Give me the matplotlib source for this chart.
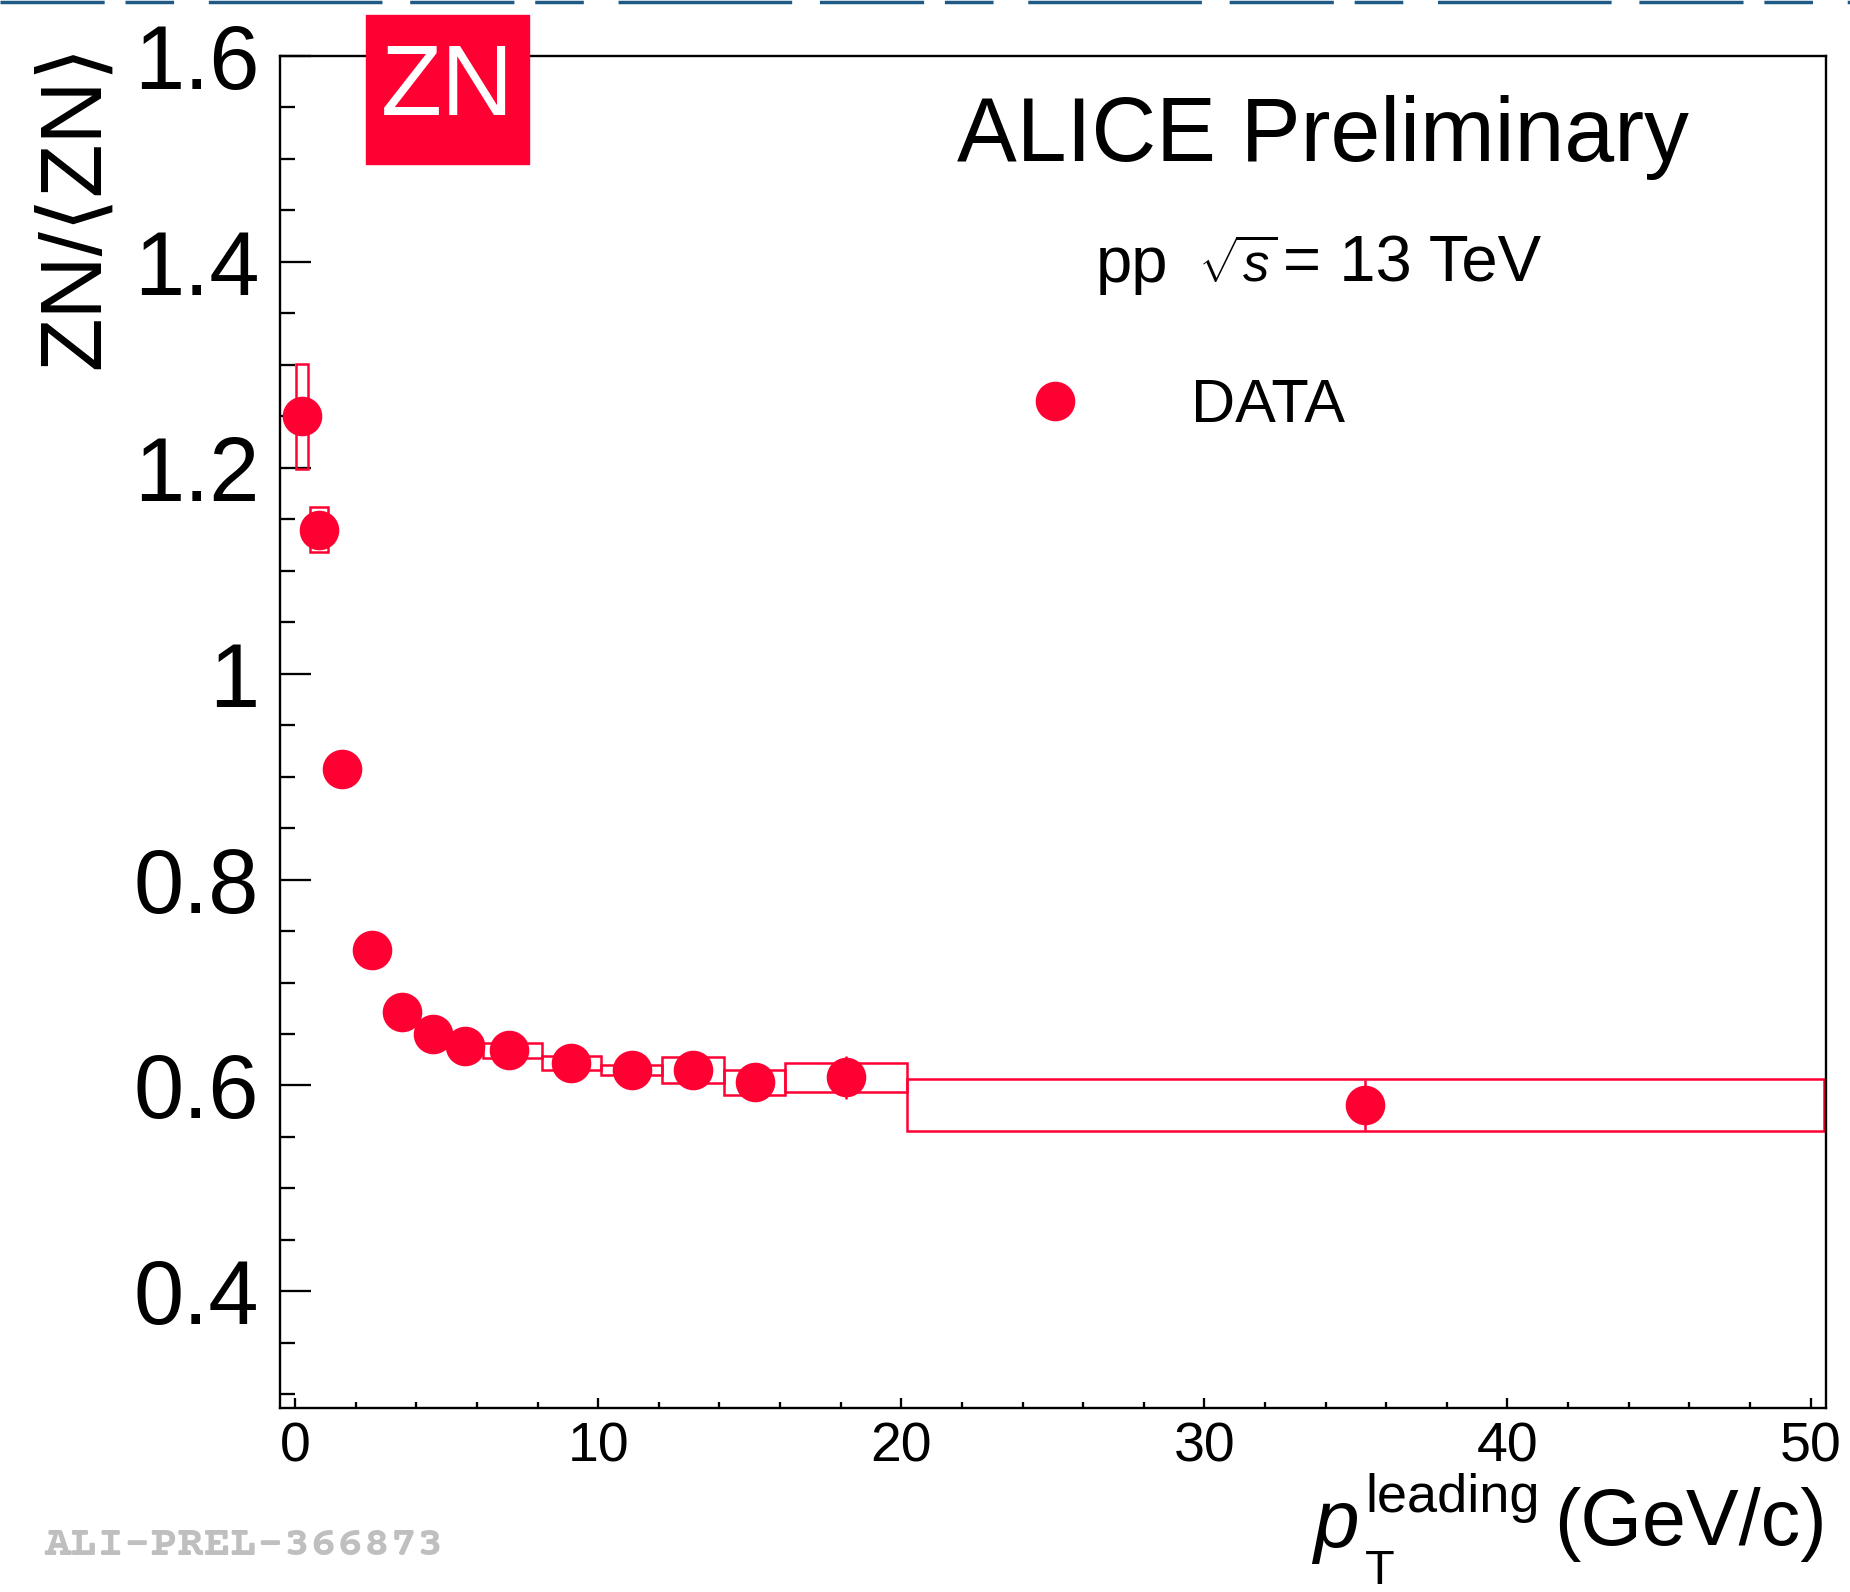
import matplotlib
matplotlib.use("Agg")
import matplotlib.pyplot as plt
from matplotlib.patches import Rectangle
from matplotlib.lines import Line2D
from matplotlib.ticker import MultipleLocator, FuncFormatter

plt.rcParams['font.family'] = ['Liberation Sans', 'DejaVu Sans']
plt.rcParams['mathtext.fontset'] = 'custom'
plt.rcParams['mathtext.rm'] = 'Liberation Sans'
plt.rcParams['mathtext.it'] = 'Liberation Sans:italic'

# ZN / <ZN> vs leading-particle pT, pp 13 TeV
pt = [0.21, 0.79, 1.55, 2.52, 3.53, 4.54, 5.59, 7.07, 9.10, 11.12, 13.14, 15.17, 18.17, 35.29]
ratio = [1.250, 1.140, 0.907, 0.732, 0.671, 0.650, 0.638, 0.634, 0.622, 0.615, 0.615, 0.603, 0.608, 0.581]
stat_err = [0.004, 0.003, 0.003, 0.003, 0.003, 0.003, 0.003, 0.004, 0.005, 0.006, 0.008, 0.010, 0.021, 0.024]
sys_err = [0.051, 0.022, 0.010, 0.008, 0.007, 0.006, 0.006, 0.0075, 0.0065, 0.005, 0.0126, 0.012, 0.0143, 0.025]
box_lo = [0.02, 0.50, 1.10, 2.05, 3.05, 4.05, 5.10, 6.21, 8.15, 10.10, 12.10, 14.16, 16.16, 20.20]
box_hi = [0.43, 1.10, 2.00, 3.00, 4.00, 5.00, 6.05, 8.15, 10.10, 12.10, 14.16, 16.16, 20.20, 50.45]

RED = '#ff0033'
W, H = 1850, 1592


def fx(x):
    return x / W


def fy(y):
    return 1 - y / H


fig = plt.figure(figsize=(W / 100, H / 100), dpi=100)
ax = fig.add_axes([fx(280), fy(1407.7), fx(1825.7) - fx(280), fy(56) - fy(1407.7)])

# systematic boxes
for lo, hi, c, s in zip(box_lo, box_hi, ratio, sys_err):
    ax.add_patch(Rectangle((lo, c - s), hi - lo, 2 * s, fill=False,
                           ec=RED, lw=1.8, zorder=2))

ax.errorbar(pt, ratio, yerr=stat_err, fmt='none', ecolor=RED,
            elinewidth=1.8, capsize=0, zorder=3)
ax.plot(pt, ratio, 'o', ms=27.5, color=RED, mec=RED, lw=0, zorder=4, label='DATA')

ax.set_xlim(-0.5, 50.5)
ax.set_ylim(0.287, 1.6)

ax.xaxis.set_major_locator(MultipleLocator(10))
ax.xaxis.set_minor_locator(MultipleLocator(2))
ax.yaxis.set_major_locator(MultipleLocator(0.2))
ax.yaxis.set_minor_locator(MultipleLocator(0.05))
ax.xaxis.set_major_formatter(FuncFormatter(lambda v, p: '%g' % round(v, 2)))
ax.yaxis.set_major_formatter(FuncFormatter(lambda v, p: '%g' % round(v, 2)))

ax.tick_params(axis='y', which='major', direction='in', length=22, width=1.65,
               labelsize=65, pad=15, right=False)
ax.tick_params(axis='y', which='minor', direction='in', length=11, width=1.65, right=False)
ax.tick_params(axis='x', which='major', direction='in', length=7.2, width=1.65,
               labelsize=40, pad=10, top=False)
ax.tick_params(axis='x', which='minor', direction='in', length=4.3, width=1.65, top=False)
for sp in ax.spines.values():
    sp.set_linewidth(1.7)

ax.legend(loc='center left', bbox_to_anchor=(0.4619, 0.7404), frameon=False,
          fontsize=44, numpoints=1, handlelength=2, handletextpad=1.23,
          borderpad=0, borderaxespad=0)

# texts
fig.text(fx(957), fy(161), 'ALICE Preliminary', fontsize=64.5, va='baseline')
fig.text(fx(1096), fy(281.7), 'pp', fontsize=47, va='baseline')
fig.text(fx(1198), fy(281.7), r'$\sqrt{s}$', fontsize=38, va='baseline')
fig.text(fx(1283), fy(281.7), '= 13 TeV', fontsize=47, va='baseline')
fig.text(fx(36), fy(43), 'ZN/⟨ZN⟩', rotation=90, fontsize=63, ha='left', va='top')

fig.text(fx(1313), fy(1547), 'p', style='italic', fontsize=59, va='baseline')
fig.text(fx(1365), fy(1512), 'leading', fontsize=39, va='baseline')
fig.text(fx(1365), fy(1584), 'T', fontsize=35, va='baseline')
fig.text(fx(1827), fy(1545), '(GeV/c)', fontsize=57, ha='right', va='baseline')

fig.text(fx(44), fy(1555), 'ALI-PREL-366873', family=['Courier Prime', 'Liberation Mono'],
         weight='bold', fontsize=32, color='#bfbfbf', va='baseline')

# ZN logo
fig.add_artist(Rectangle((fx(366), fy(164)), fx(529) - fx(366), fy(15) - fy(164),
                         transform=fig.transFigure, color=RED, zorder=5))
fig.text(fx(448), fy(89), 'ZN', color='white', fontsize=72, ha='center', va='center',
         zorder=6)

# cropped slide border at the top
fig.add_artist(Line2D([0, 1], [fy(2), fy(2)], transform=fig.transFigure, color='#1f5a86',
                      lw=2.5, dashes=(30, 6, 14, 10, 50, 8)))

fig.savefig('out.png', dpi=100)
